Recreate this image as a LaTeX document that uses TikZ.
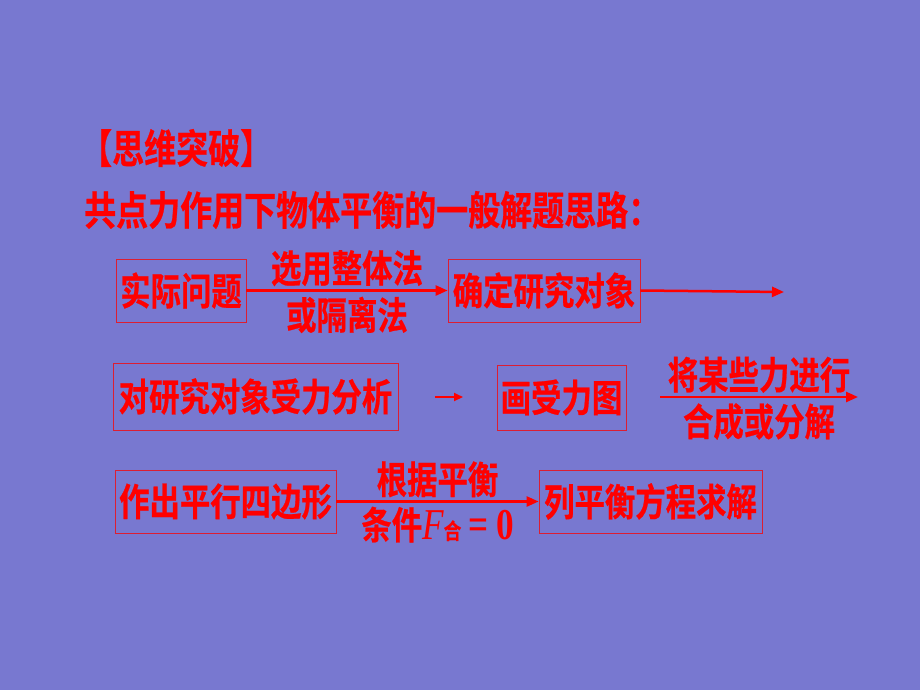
\documentclass[tikz,border=0pt]{standalone}
\usepackage{fontspec}
\newfontfamily\cjk[FakeStretch=0.8,FakeBold=0.6]{Noto Sans CJK SC Bold}
\newfontfamily\tms[FakeStretch=0.8]{Liberation Serif}
\usetikzlibrary{arrows.meta}
\definecolor{bgblue}{RGB}{120,120,208}
\definecolor{boxred}{RGB}{220,30,50}

\begin{document}
\begin{tikzpicture}[x=1pt, y=-1pt,
      every node/.style = {text=red, inner sep=0pt, font=\cjk\fontsize{38}{42}\selectfont},
      stepbox/.style = {draw=boxred, line width=0.8pt, minimum height=63pt},
      flow/.style = {draw=red, line width=2.5pt, -{Triangle[length=12pt,width=10pt]}}
    ]
    \fill[bgblue] (0,0) rectangle (920,690);
    % headings
    \node[anchor=west, font=\cjk\fontsize{40}{44}\selectfont] (title) at (80,148) {【思维突破】};
    \node[anchor=west, font=\cjk\fontsize{40}{44}\selectfont] (intro) at (84,210) {共点力作用下物体平衡的一般解题思路：};
    % first row
    \node[stepbox, minimum width=130pt] (real) at (181,290.5) {实际问题};
    \node[stepbox, minimum width=192pt] (object) at (544,290.5) {确定研究对象};
    \coordinate (end1) at (784,292);
    \draw[flow] (real.east) -- (object.west)
      node[midway, above=3pt] (whole) {选用整体法}
      node[midway, below=5pt] (isolate) {或隔离法};
    \draw[flow] (object.east) -- (end1);
    % second row
    \node[stepbox, minimum width=285pt, minimum height=67pt] (analyse) at (255.5,396.5) {对研究对象受力分析};
    \node[stepbox, minimum width=129pt, minimum height=65pt] (diagram) at (561.5,397.5) {画受力图};
    \coordinate (s2) at (435,397);
    \coordinate (e2) at (463,397);
    \coordinate (s3) at (660,397);
    \coordinate (e3) at (858,397);
    \draw[flow, line width=2pt, -{Triangle[length=9pt,width=8pt]}] (s2) -- (e2);
    \draw[flow] (s3) -- (e3)
      node[midway, above=3pt] (combine) {将某些力进行}
      node[midway, below=5pt] (split) {合成或分解};
    % third row
    \node[stepbox, minimum width=221pt] (parallel) at (225.5,501.5) {作出平行四边形};
    \node[stepbox, minimum width=223pt] (solve) at (650.5,501.5) {列平衡方程求解};
    \draw[flow] (parallel.east) -- (solve.west)
      node[midway, above=3pt] (balance) {根据平衡}
      node[midway, below=4pt] (cond) {条件{\tms\fontsize{44}{44}\selectfont\itshape F}{\fontsize{22}{22}\selectfont 合}{\tms\fontsize{44}{44}\selectfont\bfseries\,=\,0}};
  \end{tikzpicture}
\end{document}
